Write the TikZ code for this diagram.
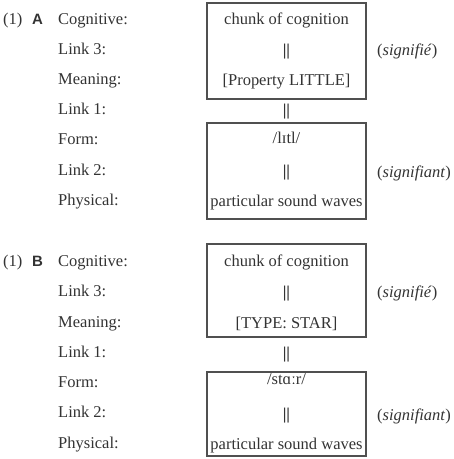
\documentclass[tikz,border=0pt]{standalone}
\usepackage{fontspec}
\setmainfont{Liberation Serif}
\newfontfamily\tagfont{Liberation Sans}

\definecolor{ink}{HTML}{333333}
\definecolor{frame}{HTML}{505050}

\newcommand*{\labx}{58}
\newcommand*{\boxl}{207}
\newcommand*{\boxr}{366}
\newcommand*{\midx}{286.5}
\newcommand*{\notex}{377}

\begin{document}
\begin{tikzpicture}
[
	x=1pt, y=-1pt,
	txt/.style={inner sep=0pt, anchor=base, text=ink, font=\fontsize{16.5}{20}\selectfont},
	lab/.style={txt, anchor=base west},
	bars/.style={txt, font=\fontsize{16.5}{20}\selectfont\bfseries},
	tag/.style={txt, anchor=base west, font=\fontsize{15}{18}\selectfont\tagfont\bfseries},
	frm/.style={draw=frame, line width=1.3pt}
]
	\useasboundingbox (0,0) rectangle (454,459);

	% panel A, left column
	\node[lab] (anum) at (3,24) {(1)};
	\node[tag] (atag) at (32,24) {A};
	\node[lab] (acog) at (\labx,24) {Cognitive:};
	\node[lab] (alinkc) at (\labx,54) {Link 3:};
	\node[lab] (amean) at (\labx,84) {Meaning:};
	\node[lab] (alinka) at (\labx,114) {Link 1:};
	\node[lab] (aform) at (\labx,144) {Form:};
	\node[lab] (alinkb) at (\labx,175) {Link 2:};
	\node[lab] (aphys) at (\labx,205) {Physical:};

	% panel A, boxes
	\draw[frm] (\boxl,3) rectangle (\boxr,99);
	\draw[frm] (\boxl,123) rectangle (\boxr,219);
	\node[txt] (achunk) at (\midx,24) {chunk of cognition};
	\node[bars] (abarc) at (\midx,55) {||};
	\node[txt] (aprop) at (\midx,85) {[Property LITTLE]};
	\node[bars] (abara) at (\midx,115) {||};
	\node[txt] (aipa) at (\midx,143) {/lɪtl/};
	\node[bars] (abarb) at (\midx,176) {||};
	\node[txt] (awaves) at (\midx,206) {particular sound waves};

	% panel A, notes
	\node[lab] (asigne) at (\notex,55) {(\textit{signifié})};
	\node[lab] (asigna) at (\notex,177) {(\textit{signifiant})};

	% panel B, left column
	\node[lab] (bnum) at (3,266) {(1)};
	\node[tag] (btag) at (32,266) {B};
	\node[lab] (bcog) at (\labx,266) {Cognitive:};
	\node[lab] (blinkc) at (\labx,296) {Link 3:};
	\node[lab] (bmean) at (\labx,327) {Meaning:};
	\node[lab] (blinka) at (\labx,357) {Link 1:};
	\node[lab] (bform) at (\labx,387) {Form:};
	\node[lab] (blinkb) at (\labx,417) {Link 2:};
	\node[lab] (bphys) at (\labx,448) {Physical:};

	% panel B, boxes
	\draw[frm] (\boxl,244) rectangle (\boxr,337);
	\draw[frm] (\boxl,372) rectangle (\boxr,456);
	\node[txt] (bchunk) at (\midx,266) {chunk of cognition};
	\node[bars] (bbarc) at (\midx,297) {||};
	\node[txt] (btype) at (\midx,328) {[TYPE: STAR]};
	\node[bars] (bbara) at (\midx,358) {||};
	\node[txt] (bipa) at (\midx,384) {/stɑːr/};
	\node[bars] (bbarb) at (\midx,419) {||};
	\node[txt] (bwaves) at (\midx,449) {particular sound waves};

	% panel B, notes
	\node[lab] (bsigne) at (\notex,297) {(\textit{signifié})};
	\node[lab] (bsigna) at (\notex,420) {(\textit{signifiant})};

\end{tikzpicture}
\end{document}
